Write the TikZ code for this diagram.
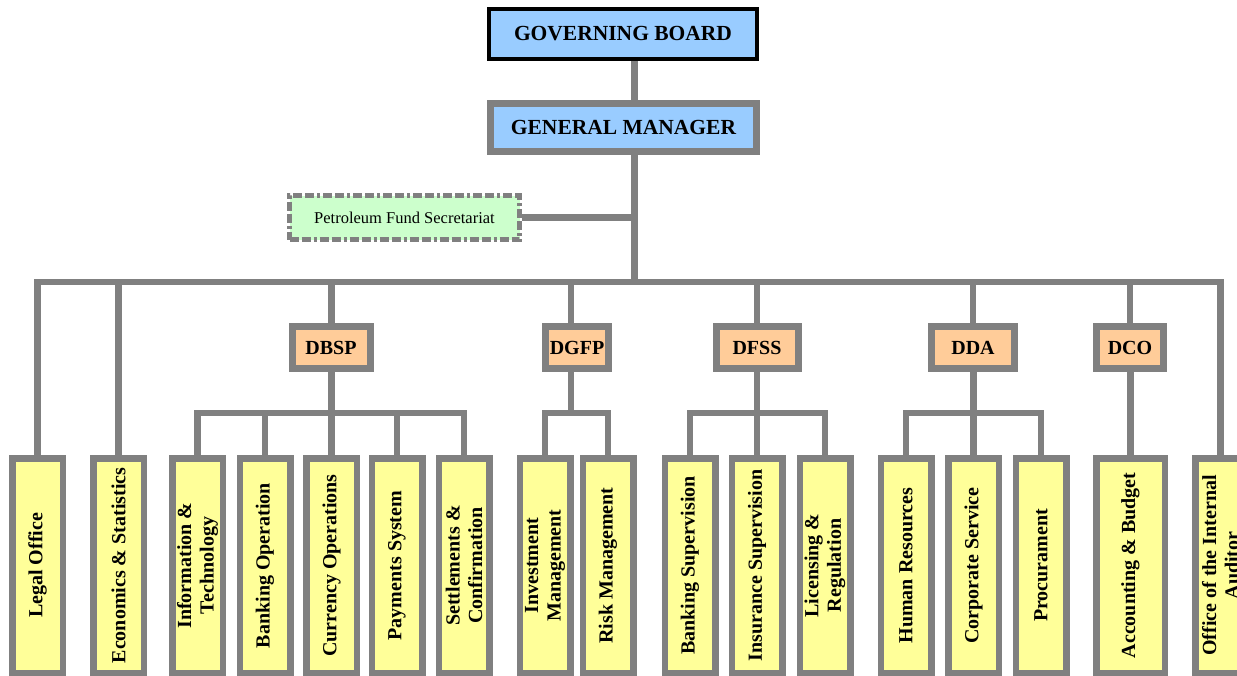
\documentclass[tikz,border=0pt]{standalone}
\usepackage{fontspec}
\setmainfont{Liberation Serif}
\usetikzlibrary{backgrounds}
\definecolor{lineg}{HTML}{808080}
\definecolor{bluef}{HTML}{99CCFF}
\definecolor{orangef}{HTML}{FFCC99}
\definecolor{yellowf}{HTML}{FFFF99}
\definecolor{greenf}{HTML}{CCFFCC}
\tikzset{
  conn/.style={draw=lineg, line width=6.5pt, line join=miter},
  topbox/.style={fill=bluef, inner sep=0pt, font=\fontsize{21.5}{24}\selectfont\bfseries},
  deptbox/.style={draw=lineg, line width=7pt, fill=orangef, inner sep=0pt,
    minimum width=78pt, minimum height=42pt, font=\fontsize{20}{22}\selectfont\bfseries},
  leafbox/.style={draw=lineg, line width=6.5pt, fill=yellowf, inner sep=0pt, rotate=90,
    minimum width=214.5pt, minimum height=50.5pt, align=center,
    font=\fontsize{20}{22.5}\selectfont\bfseries},
  pfsbox/.style={draw=lineg, line width=5pt, fill=greenf, inner sep=0pt,
    dash pattern=on 9pt off 3pt on 9pt off 3pt on 3pt off 3pt,
    minimum width=230pt, minimum height=44pt, font=\fontsize{16.5}{19}\selectfont}
}
\begin{document}
\begin{tikzpicture}[x=1pt,y=-1pt]
\useasboundingbox (0,0) rectangle (1237,675);
\clip (0,0) rectangle (1237,675);
% reference coordinates
\coordinate (stem) at (634.5,0);
\coordinate (bar) at (0,282);
\coordinate (sub) at (0,413);
\coordinate (dgfpstem) at (571,0);
% top boxes
\node[topbox, draw=black, line width=4pt, minimum width=268pt, minimum height=50pt] (gb) at (623,34) {GOVERNING BOARD};
\node[topbox, draw=lineg, line width=7pt, minimum width=266pt, minimum height=48pt] (gm) at (623.5,127.5) {GENERAL MANAGER};
\node[pfsbox] (pfs) at (404.5,217.5) {Petroleum Fund Secretariat};
% departments
\node[deptbox] (dbsp) at (331,347.5) {DBSP};
\node[deptbox, minimum width=63pt] (dgfp) at (577,347.5) {DGFP};
\node[deptbox, minimum width=82pt] (dfss) at (757,347.5) {DFSS};
\node[deptbox, minimum width=83pt] (dda) at (973,347.5) {DDA};
\node[deptbox, minimum width=67pt] (dco) at (1130,347.5) {DCO};
% leaves
\node[leafbox] (legal) at (37.5,565.5) {Legal Office};
\node[leafbox] (econ) at (118.5,565.5) {Economics \& Statistics};
\node[leafbox] (info) at (197.5,565.5) {Information \&\\Technology};
\node[leafbox] (bankop) at (265,565.5) {Banking Operation};
\node[leafbox] (curr) at (331.5,565.5) {Currency Operations};
\node[leafbox] (pay) at (397,565.5) {Payments System};
\node[leafbox] (settle) at (464,565.5) {Settlements \&\\Confirmation};
\node[leafbox] (invest) at (545,565.5) {Investment\\Management};
\node[leafbox] (risk) at (608,565.5) {Risk Management};
\node[leafbox] (banksup) at (690,565.5) {Banking Supervision};
\node[leafbox] (insur) at (757,565.5) {Insurance Supervision};
\node[leafbox] (lic) at (825,565.5) {Licensing \&\\Regulation};
\node[leafbox] (hr) at (906,565.5) {Human Resources};
\node[leafbox] (corp) at (973.5,565.5) {Corporate Service};
\node[leafbox] (proc) at (1041,565.5) {Procurament};
\node[leafbox, minimum height=68.5pt] (acc) at (1130.5,565.5) {Accounting \& Budget};
\node[leafbox] (aud) at (1220.5,565.5) {Office of the Internal\\Auditor};
% connectors
\begin{scope}[on background layer]
\draw[conn] (gb.south -| stem) -- (gm.north -| stem);
\draw[conn] (gm.south -| stem) -- (stem |- bar);
\draw[conn] (pfs.east) -- (pfs.east -| stem);
\draw[conn] (legal.east) -- (legal.east |- bar) -- (aud.east |- bar) -- (aud.east);
\draw[conn] (econ.east) -- (econ.east |- bar);
\draw[conn] (dbsp.north -| curr.east) -- (curr.east |- bar);
\draw[conn] (dgfp.north -| dgfpstem) -- (dgfpstem |- bar);
\draw[conn] (dfss.north) -- (dfss.north |- bar);
\draw[conn] (dda.north) -- (dda.north |- bar);
\draw[conn] (dco.north) -- (dco.north |- bar);
% DBSP group
\draw[conn] (info.east) -- (info.east |- sub) -- (settle.east |- sub) -- (settle.east);
\draw[conn] (dbsp.south -| curr.east) -- (curr.east);
\draw[conn] (bankop.east) -- (bankop.east |- sub);
\draw[conn] (pay.east) -- (pay.east |- sub);
% DGFP group
\draw[conn] (invest.east) -- (invest.east |- sub) -- (risk.east |- sub) -- (risk.east);
\draw[conn] (dgfp.south -| dgfpstem) -- (dgfpstem |- sub);
% DFSS group
\draw[conn] (banksup.east) -- (banksup.east |- sub) -- (lic.east |- sub) -- (lic.east);
\draw[conn] (dfss.south -| insur.east) -- (insur.east);
% DDA group
\draw[conn] (hr.east) -- (hr.east |- sub) -- (proc.east |- sub) -- (proc.east);
\draw[conn] (dda.south -| corp.east) -- (corp.east);
% DCO
\draw[conn] (dco.south -| acc.east) -- (acc.east);
\end{scope}
\end{tikzpicture}
\end{document}
